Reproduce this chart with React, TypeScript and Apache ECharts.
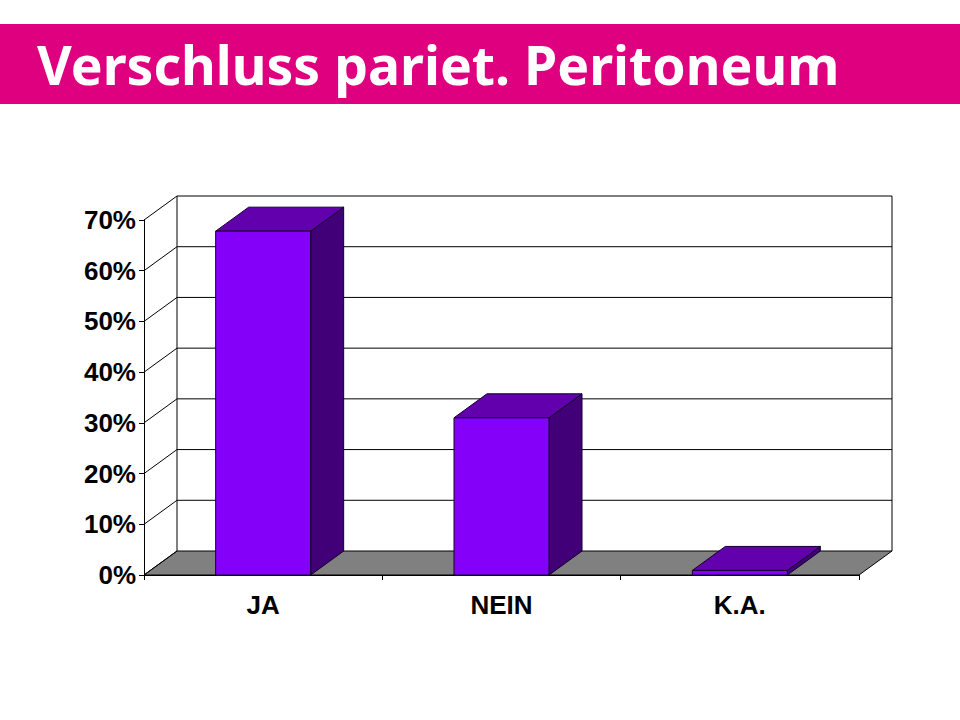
import React, { useEffect, useRef } from "react";
import * as echarts from "echarts";

const titleText = "Verschluss pariet. Peritoneum";
const categories = ["JA", "NEIN", "K.A."];
const values = [67.8, 31, 0.9];
const yTicks = [0, 10, 20, 30, 40, 50, 60, 70];
const DX = 33;
const DY = -24;
const BAR_W = 95;
const FRONT = "#8400F8";
const TOP = "#6200AE";
const SIDE = "#420078";
const INK = "#000000";

function wallItem(params: any, api: any) {
  const cs = params.coordSys;
  const x0 = cs.x;
  const x1 = cs.x + cs.width;
  const children: any[] = [];
  const yBase = api.coord([0, 0])[1];
  const ln = { stroke: INK, lineWidth: 1, fill: "none" };
  children.push({
    type: "polygon",
    shape: { points: [[x0, yBase], [x1, yBase], [x1 + DX, yBase + DY], [x0 + DX, yBase + DY]] },
    style: { fill: "#808080", stroke: INK, lineWidth: 1 },
  });
  yTicks.forEach((t) => {
    const y = api.coord([0, t])[1];
    children.push({
      type: "polyline",
      shape: { points: t === 0 ? [[x0, y], [x0 + DX, y + DY]] : [[x0, y], [x0 + DX, y + DY], [x1 + DX, y + DY]] },
      style: ln,
    });
  });
  const yTop = api.coord([0, yTicks[yTicks.length - 1]])[1];
  children.push({ type: "line", shape: { x1: x0 + DX, y1: yBase + DY, x2: x0 + DX, y2: yTop + DY }, style: ln });
  children.push({ type: "line", shape: { x1: x1 + DX, y1: yBase + DY, x2: x1 + DX, y2: yTop + DY }, style: ln });
  return { type: "group", children };
}

function barItem(_params: any, api: any) {
  const c = api.coord([api.value(0), api.value(1)]);
  const b = api.coord([api.value(0), 0]);
  const l = c[0] - BAR_W / 2;
  const r = c[0] + BAR_W / 2;
  const edge = { stroke: "#12002a", lineWidth: 1 };
  return {
    type: "group",
    children: [
      { type: "polygon", shape: { points: [[r, c[1]], [r + DX, c[1] + DY], [r + DX, b[1] + DY], [r, b[1]]] }, style: { fill: SIDE, ...edge } },
      { type: "polygon", shape: { points: [[l, c[1]], [l + DX, c[1] + DY], [r + DX, c[1] + DY], [r, c[1]]] }, style: { fill: TOP, ...edge } },
      { type: "rect", shape: { x: l, y: c[1], width: BAR_W, height: b[1] - c[1] }, style: { fill: FRONT, ...edge } },
    ],
  };
}

export default function App() {
  const ref = useRef<HTMLDivElement>(null);
  useEffect(() => {
    document.body.style.margin = "0";
    const chart = echarts.init(ref.current!, null, { renderer: "svg" });
    chart.setOption({
      animation: false,
      backgroundColor: "#ffffff",
      title: {
        text: titleText,
        left: 32,
        top: 32,
        textStyle: { fontFamily: "'Noto Sans'", fontWeight: "bold", fontSize: 53.5, color: "#ffffff" },
        z: 10,
      },
      graphic: [
        { type: "rect", z: 0, shape: { x: 0, y: 24, width: 960, height: 80 }, style: { fill: "#DF007F" } },
      ],
      grid: { left: 144, top: 220, width: 715, height: 355 },
      xAxis: {
        type: "category",
        data: categories,
        axisLine: { show: true, lineStyle: { color: INK, width: 1 } },
        axisTick: { show: true, length: 5, alignWithLabel: false, lineStyle: { color: INK } },
        axisLabel: { margin: 17, fontFamily: "'Liberation Sans'", fontWeight: "bold", fontSize: 26, color: INK },
        splitLine: { show: false },
        z: 5,
      },
      yAxis: {
        type: "value",
        min: 0,
        max: 70,
        interval: 10,
        axisLine: { show: true, lineStyle: { color: INK, width: 1 } },
        axisTick: { show: true, length: 5, lineStyle: { color: INK } },
        axisLabel: { margin: 8, formatter: "{value}%", fontFamily: "'Liberation Sans'", fontWeight: "bold", fontSize: 26, color: INK },
        splitLine: { show: false },
      },
      series: [
        { type: "custom", renderItem: wallItem, data: [[0, 0]], clip: false, silent: true, z: 1, encode: { x: 0, y: 1 } },
        {
          type: "custom",
          renderItem: barItem,
          data: categories.map((_, i) => [i, values[i]]),
          clip: false,
          z: 3,
          encode: { x: 0, y: 1 },
        },
      ],
    });
    return () => chart.dispose();
  }, []);
  return <div ref={ref} style={{ position: "absolute", left: 0, top: 0, width: 960, height: 720 }} />;
}
